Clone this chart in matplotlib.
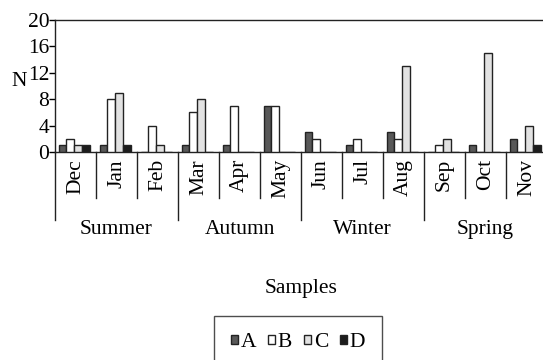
import matplotlib
matplotlib.use("Agg")
import matplotlib.pyplot as plt
from matplotlib.patches import Patch
import numpy as np

plt.rcParams['font.family'] = ['Liberation Serif', 'DejaVu Serif']

months = ["Dec", "Jan", "Feb", "Mar", "Apr", "May", "Jun", "Jul", "Aug", "Sep", "Oct", "Nov"]
seasons = ["Summer", "Autumn", "Winter", "Spring"]
series_names = ["A", "B", "C", "D"]
A = [1, 1, 0, 1, 1, 7, 3, 1, 3, 0, 1, 2]
B = [2, 8, 4, 6, 7, 7, 2, 2, 2, 1, 0, 0]
C = [1, 9, 1, 8, 0, 0, 0, 0, 13, 2, 15, 4]
D = [1, 1, 0, 0, 0, 0, 0, 0, 0, 0, 0, 1]
yticks = [0, 4, 8, 12, 16, 20]

colors = ["#585858", "#ffffff", "#e2e2e2", "#1c1c1c"]
W, H = 543, 360
fig = plt.figure(figsize=(W / 100, H / 100), dpi=100)
x0, x1, ytop, ybot = 55, 547, 20, 152
ax = fig.add_axes([x0 / W, 1 - ybot / H, (x1 - x0) / W, (ybot - ytop) / H])
ah = ybot - ytop

fs = 15.5
n = len(months)
x = np.arange(n)
w = 0.19
center = 0.47
for j, (vals, col) in enumerate(zip([A, B, C, D], colors)):
    ax.bar(x + center + (j - 1.5) * w, vals, width=w, color=col,
           edgecolor="#222222", linewidth=1.0, zorder=3)

ax.set_xlim(0, n)
ax.set_ylim(0, 20)
ax.set_yticks(yticks)
ax.set_yticklabels([str(t) for t in yticks], fontsize=fs)
ax.tick_params(axis='y', direction='out', length=4, width=1, pad=0)
ax.set_xticks([])
for s in ["left", "top", "bottom", "right"]:
    ax.spines[s].set_linewidth(1.0)
    ax.spines[s].set_color("#222222")

tr = ax.get_xaxis_transform()
# month / season separators
for i in range(n + 1):
    depth = 68 if i % 3 == 0 else 46
    ax.plot([i, i], [0, -depth / ah], transform=tr, color="#222222",
            lw=1.0, clip_on=False)
for i, m in enumerate(months):
    ax.text(i + 0.5, -7 / ah, m, transform=tr, rotation=90, ha='center',
            va='top', fontsize=fs)
for k, s in enumerate(seasons):
    ax.text(3 * k + 1.5, -(229 - ybot) / ah, s, transform=tr, ha='center',
            va='center', fontsize=fs)

fig.text(19 / W, 1 - 82 / H, "N", ha='center', va='center', fontsize=fs)
fig.text(301 / W, 1 - 288 / H, "Samples", ha='center', va='center', fontsize=fs)

handles = [Patch(facecolor=c, edgecolor="#222222", linewidth=1.0) for c in colors]
leg = fig.legend(handles, series_names, loc='upper left',
                 bbox_to_anchor=(214 / W, 1 - 316 / H), ncol=4, fontsize=fs,
                 frameon=True, fancybox=False, handlelength=0.33,
                 handleheight=0.33, handletextpad=0.12, columnspacing=0.55,
                 borderpad=0.8, borderaxespad=0)
leg.get_frame().set_edgecolor("#222222")
leg.get_frame().set_linewidth(1.0)

fig.savefig("out.png", dpi=100)
